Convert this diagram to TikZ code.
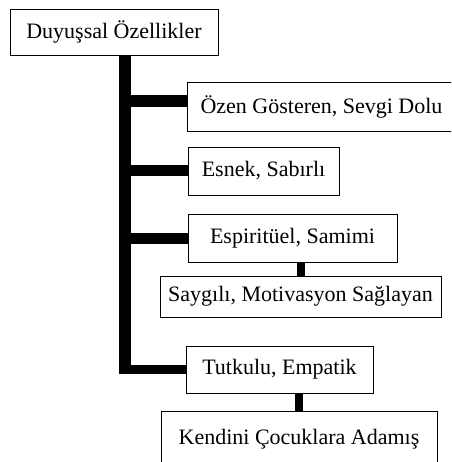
\documentclass[tikz,border=0pt]{standalone}
\usepackage{fontspec}
\setmainfont{Liberation Serif}
\usetikzlibrary{positioning}

\begin{document}
\begin{tikzpicture}[x=1pt,y=-1pt,
	kutu/.style={draw,line width=.8pt,fill=white,inner sep=0pt,font=\fontsize{22}{24}\selectfont},
	kalin/.style={line width=#1,line join=miter},
	kalin/.default=11pt]
\useasboundingbox (0,0) rectangle (451,462);
\clip (0,0) rectangle (451,462);

\node[kutu,minimum width=208,minimum height=46] (duy) at (114,32) {Duyuşsal Özellikler};
\node[kutu,minimum width=269,minimum height=49] (ozen) at (321.5,106.5) {Özen Gösteren, Sevgi Dolu};
\node[kutu,minimum width=151,minimum height=48] (esnek) at (263.5,171) {Esnek, Sabırlı};
\node[kutu,minimum width=209,minimum height=48] (espri) at (292.5,238) {Espiritüel, Samimi};
\node[kutu,minimum width=281,minimum height=41] (saygi) at (300.5,296.5) {Saygılı, Motivasyon Sağlayan};
\node[kutu,minimum width=187,minimum height=47] (tutku) at (279.5,369.5) {Tutkulu, Empatik};
\node[kutu,minimum width=276,minimum height=57] (kendi) at (299,439.5) {Kendini Çocuklara Adamış};

\coordinate (govde) at (125,0);
% ana gövde
\draw[kalin=12.5pt] (govde |- duy.south) -- ([yshift=-4pt]govde |- tutku.west);
\draw[kalin=8.5pt] (govde |- tutku.west) -- (tutku.west);
\draw[kalin=12pt] ([yshift=5pt]govde |- ozen.west) -- ([yshift=5pt]ozen.west);
\foreach \n in {esnek,espri}
{
	\draw[kalin] (govde |- \n.west) -- (\n.west);
}
% alt kutular
\draw[kalin=8pt] (saygi.north |- espri.south) -- (saygi.north);
\draw[kalin=8pt] (kendi.north |- tutku.south) -- (kendi.north);

\end{tikzpicture}
\end{document}
